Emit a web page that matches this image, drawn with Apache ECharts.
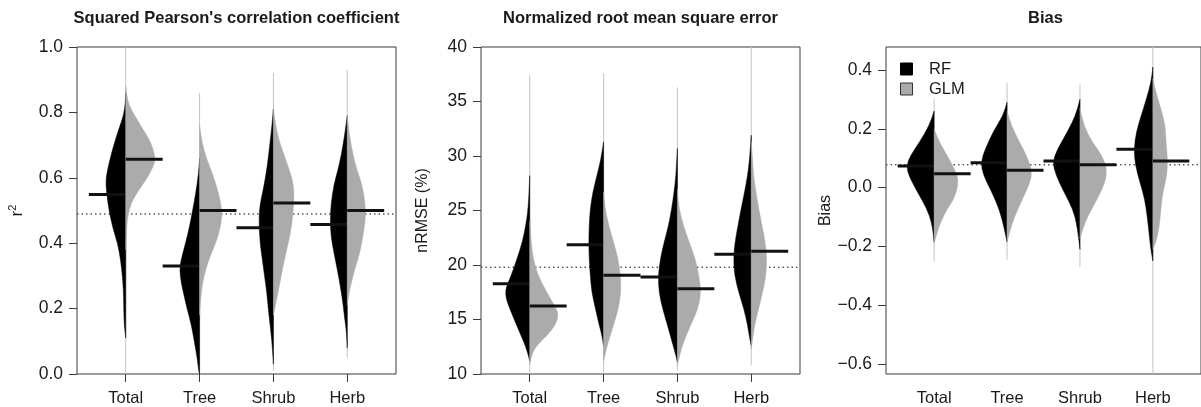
<!DOCTYPE html>
<html><head><meta charset="utf-8">
<script src="https://cdn.jsdelivr.net/npm/echarts@6.0.0/dist/echarts.min.js"></script>
<style>html,body{margin:0;padding:0;background:#fff}#c{width:1201px;height:407px}</style>
</head><body><div id="c"></div>
<script>
// ---------------- DATA ----------------
const categories = ["Total", "Tree", "Shrub", "Herb"];
const seriesNames = ["RF", "GLM"];
const panelTitles = ["Squared Pearson's correlation coefficient", "Normalized root mean square error", "Bias"];
const axisNames = ["{a|r}{b|2}", "nRMSE (%)", "Bias"];

const r2Ticks = [0, 0.2, 0.4, 0.6, 0.8, 1.0];
const nrmseTicks = [10, 15, 20, 25, 30, 35, 40];
const biasTicks = [-0.6, -0.4, -0.2, 0.0, 0.2, 0.4];

// Panel 1: r2  — density profiles [value, half-width] per category
const r2MeanRF = [0.549, 0.330, 0.447, 0.457];
const r2MeanGLM = [0.657, 0.500, 0.523, 0.500];
const r2Overall = 0.489;
const r2Tails = [[0.0, 1.0], [0.0, 0.86], [0.01, 0.92], [0.05, 0.93]];
const r2DensRF = [
  [[0.11,0],[0.13,0.01],[0.15,0.02],[0.2,0.027],[0.25,0.03],[0.30,0.045],[0.35,0.07],[0.40,0.11],[0.45,0.18],[0.505,0.23],[0.54,0.25],[0.58,0.27],[0.61,0.26],[0.66,0.21],[0.71,0.15],[0.76,0.077],[0.79,0.03],[0.83,0.005],[0.86,0]],
  [[0,0],[0.005,0.01],[0.046,0.03],[0.097,0.07],[0.15,0.11],[0.2,0.17],[0.24,0.21],[0.28,0.25],[0.32,0.27],[0.35,0.25],[0.40,0.19],[0.45,0.136],[0.505,0.09],[0.55,0.054],[0.61,0.015],[0.66,0]],
  [[0.03,0],[0.05,0.005],[0.097,0.02],[0.15,0.045],[0.2,0.07],[0.25,0.09],[0.30,0.12],[0.35,0.15],[0.40,0.18],[0.44,0.19],[0.48,0.195],[0.52,0.18],[0.55,0.15],[0.61,0.10],[0.66,0.07],[0.71,0.045],[0.76,0.02],[0.81,0]],
  [[0.08,0],[0.13,0.01],[0.17,0.036],[0.22,0.06],[0.27,0.095],[0.32,0.135],[0.37,0.18],[0.42,0.22],[0.47,0.23],[0.52,0.22],[0.58,0.18],[0.62,0.13],[0.67,0.08],[0.73,0.036],[0.79,0]]
];
const r2DensGLM = [
  [[0.38,0],[0.42,0.008],[0.46,0.015],[0.505,0.045],[0.54,0.11],[0.58,0.23],[0.61,0.32],[0.65,0.40],[0.67,0.39],[0.71,0.34],[0.76,0.2],[0.81,0.07],[0.84,0.02],[0.88,0]],
  [[0.18,0],[0.25,0.02],[0.30,0.06],[0.34,0.11],[0.38,0.18],[0.42,0.25],[0.47,0.30],[0.505,0.30],[0.55,0.26],[0.61,0.18],[0.66,0.09],[0.71,0.03],[0.76,0]],
  [[0.18,0],[0.23,0.045],[0.27,0.08],[0.33,0.13],[0.38,0.18],[0.43,0.23],[0.48,0.26],[0.54,0.28],[0.58,0.27],[0.61,0.235],[0.66,0.16],[0.71,0.08],[0.76,0.03],[0.81,0]],
  [[0.21,0],[0.23,0.01],[0.27,0.045],[0.32,0.10],[0.37,0.17],[0.42,0.21],[0.47,0.245],[0.52,0.245],[0.58,0.2],[0.62,0.136],[0.67,0.077],[0.73,0.03],[0.79,0]]
];

// Panel 2: nRMSE
const nrmseMeanRF = [18.28, 21.86, 18.90, 20.98];
const nrmseMeanGLM = [16.24, 19.05, 17.83, 21.26];
const nrmseOverall = 19.8;
const nrmseTails = [[10.0, 37.4], [10.0, 37.6], [10.3, 36.3], [10.8, 40.0]];
const nrmseDensRF = [
  [[11.2,0],[12.0,0.03],[12.9,0.077],[14.5,0.18],[16.0,0.27],[16.9,0.32],[17.8,0.33],[19.05,0.25],[20.6,0.17],[22.1,0.10],[23.6,0.054],[25.2,0.02],[28.2,0]],
  [[12.6,0],[13.5,0.02],[14.5,0.06],[16.0,0.11],[17.5,0.16],[19.05,0.18],[20.6,0.195],[22.1,0.2],[23.6,0.195],[25.2,0.18],[26.7,0.145],[28.2,0.09],[29.7,0.036],[31.3,0]],
  [[11.1,0],[11.7,0.02],[12.9,0.07],[14.5,0.136],[16.0,0.2],[17.5,0.25],[19.05,0.26],[20.6,0.23],[22.1,0.18],[23.6,0.12],[25.2,0.077],[26.7,0.045],[28.2,0.02],[30.7,0]],
  [[12.6,0],[13.2,0.02],[14.5,0.05],[16.0,0.10],[17.5,0.17],[19.05,0.226],[20.6,0.24],[22.1,0.22],[23.6,0.18],[25.2,0.136],[26.7,0.09],[28.2,0.05],[29.7,0.023],[31.9,0]]
];
const nrmseDensGLM = [
  [[10.9,0],[11.7,0.02],[12.6,0.09],[13.5,0.23],[14.5,0.35],[15.4,0.39],[16.0,0.36],[17.5,0.23],[19.05,0.11],[20.6,0.045],[22.1,0.02],[24.0,0]],
  [[11.2,0],[11.7,0.015],[12.9,0.06],[14.5,0.136],[16.0,0.2],[17.5,0.235],[19.05,0.23],[20.6,0.195],[22.1,0.136],[23.6,0.07],[25.2,0.02],[26.7,0]],
  [[10.8,0],[11.7,0.027],[12.9,0.08],[14.5,0.18],[16.0,0.28],[17.5,0.32],[19.05,0.29],[20.6,0.24],[22.1,0.16],[23.6,0.08],[25.2,0.02],[27.0,0]],
  [[12.3,0],[13.2,0.018],[14.5,0.045],[16.0,0.1],[17.5,0.154],[19.05,0.2],[20.6,0.21],[22.1,0.19],[23.6,0.145],[25.2,0.1],[26.7,0.063],[28.2,0.03],[29.7,0.018],[31.3,0]]
];

// Panel 3: Bias
const biasMeanRF = [0.073, 0.084, 0.090, 0.130];
const biasMeanGLM = [0.047, 0.059, 0.078, 0.090];
const biasOverall = 0.078;
const biasTails = [[-0.25, 0.30], [-0.245, 0.355], [-0.27, 0.35], [-0.634, 0.478]];
const biasDensRF = [
  [[-0.185,0],[-0.16,0.01],[-0.117,0.036],[-0.072,0.1],[-0.015,0.23],[0.042,0.35],[0.076,0.38],[0.11,0.32],[0.155,0.2],[0.21,0.068],[0.26,0]],
  [[-0.185,0],[-0.13,0.045],[-0.072,0.11],[-0.015,0.21],[0.042,0.325],[0.087,0.36],[0.13,0.30],[0.19,0.19],[0.245,0.054],[0.29,0]],
  [[-0.21,0],[-0.13,0.036],[-0.072,0.1],[-0.015,0.22],[0.042,0.33],[0.087,0.375],[0.13,0.31],[0.19,0.17],[0.245,0.06],[0.30,0]],
  [[-0.25,0],[-0.21,0.03],[-0.15,0.054],[-0.1,0.077],[-0.04,0.11],[0.02,0.18],[0.076,0.24],[0.13,0.26],[0.19,0.226],[0.245,0.16],[0.3,0.09],[0.36,0.023],[0.41,0]]
];
const biasDensGLM = [
  [[-0.19,0],[-0.15,0.045],[-0.117,0.09],[-0.072,0.18],[-0.04,0.27],[0.008,0.33],[0.042,0.32],[0.1,0.2],[0.155,0.068],[0.2,0]],
  [[-0.185,0],[-0.15,0.036],[-0.1,0.1],[-0.04,0.21],[0.02,0.32],[0.053,0.34],[0.1,0.285],[0.155,0.17],[0.21,0.06],[0.26,0]],
  [[-0.175,0],[-0.14,0.04],[-0.1,0.1],[-0.04,0.235],[0.02,0.35],[0.065,0.37],[0.11,0.30],[0.155,0.167],[0.21,0.054],[0.27,0]],
  [[-0.21,0],[-0.185,0.045],[-0.13,0.09],[-0.072,0.11],[-0.015,0.136],[0.042,0.195],[0.1,0.2],[0.155,0.18],[0.21,0.17],[0.268,0.11],[0.32,0.045],[0.37,0]]
];

// ---------------- CHART ----------------
const FONT = "'Liberation Sans', Arial, Helvetica, sans-serif";
const RF_COLOR = '#000000';
const GLM_COLOR = '#ababab';
const TEXT = '#1a1a1a';
const BOX = '#3a3a3a';

const panels = [
  { left: 77, min: 0, max: 1, ticks: r2Ticks, fmt: v => v.toFixed(1),
    rf: r2DensRF, glm: r2DensGLM, mRF: r2MeanRF, mGLM: r2MeanGLM, overall: r2Overall, tails: r2Tails },
  { left: 481, min: 10, max: 40, ticks: nrmseTicks, fmt: v => String(v),
    rf: nrmseDensRF, glm: nrmseDensGLM, mRF: nrmseMeanRF, mGLM: nrmseMeanGLM, overall: nrmseOverall, tails: nrmseTails },
  { left: 886, min: -0.634, max: 0.478, ticks: biasTicks, fmt: v => (v < 0 ? '\u2212' : '') + Math.abs(v).toFixed(1),
    rf: biasDensRF, glm: biasDensGLM, mRF: biasMeanRF, mGLM: biasMeanGLM, overall: biasOverall, tails: biasTails }
];
const PW = 319, TOP = 47, PH = 327;
const XMIN = 0.34, XMAX = 4.66;

function halfRenderer(profiles, means, side, color, tails) {
  return function (params, api) {
    const i = params.dataIndex;
    const c = i + 1;
    const children = [];
    if (tails) {
      const a = api.coord([c, tails[i][0]]), b = api.coord([c, tails[i][1]]);
      children.push({ type: 'line', shape: { x1: a[0], y1: a[1], x2: b[0], y2: b[1] },
        style: { stroke: '#c4c4c4', lineWidth: 1 } });
    }
    const pts = profiles[i].map(p => api.coord([c + side * p[1], p[0]]));
    let d = 'M' + pts[0][0] + ' ' + pts[0][1];
    for (let k = 1; k < pts.length - 1; k++) {
      const mx = (pts[k][0] + pts[k + 1][0]) / 2, my = (pts[k][1] + pts[k + 1][1]) / 2;
      d += ' Q' + pts[k][0] + ' ' + pts[k][1] + ' ' + mx + ' ' + my;
    }
    const last = pts[pts.length - 1];
    d += ' L' + last[0] + ' ' + last[1] + ' Z';
    children.push({ type: 'path', shape: { pathData: d }, style: { fill: color, stroke: color, lineWidth: 0.5 } });
    const m1 = api.coord([c + side * 0.5, means[i]]), m2 = api.coord([c, means[i]]);
    children.push({ type: 'line', shape: { x1: m1[0], y1: m1[1], x2: m2[0], y2: m2[1] },
      style: { stroke: '#111', lineWidth: 3 } });
    return { type: 'group', children };
  };
}

const grid = [], xAxis = [], yAxis = [], series = [], graphic = [];
panels.forEach((p, k) => {
  grid.push({ left: p.left, top: TOP, width: PW, height: PH, show: true, borderColor: BOX, borderWidth: 1, backgroundColor: 'transparent', containLabel: false });
  xAxis.push({ type: 'value', gridIndex: k, min: XMIN, max: XMAX,
    axisLine: { show: false }, splitLine: { show: false },
    axisTick: { show: true, customValues: [1, 2, 3, 4], length: 8, lineStyle: { color: BOX, width: 1 } },
    axisLabel: { show: true, customValues: [1, 2, 3, 4], formatter: v => categories[Math.round(v) - 1],
      fontSize: 16.5, color: TEXT, fontFamily: FONT, margin: 16 } });
  yAxis.push({ type: 'value', gridIndex: k, min: p.min, max: p.max,
    axisLine: { show: false }, splitLine: { show: false },
    axisTick: { show: true, customValues: p.ticks, length: 8, lineStyle: { color: BOX, width: 1 } },
    axisLabel: { show: true, customValues: p.ticks, formatter: p.fmt, fontSize: 17.5, color: TEXT, fontFamily: FONT, margin: 14 },
    name: axisNames[k], nameLocation: 'middle', nameGap: 50,
    nameTextStyle: { fontSize: 16, color: TEXT, fontFamily: FONT,
      rich: { a: { fontSize: 17, color: TEXT, fontFamily: FONT }, b: { fontSize: 11, color: TEXT, fontFamily: FONT, padding: [0, 0, 9, 0] } } } });
  series.push({ type: 'line', xAxisIndex: k, yAxisIndex: k, data: [[XMIN, p.overall], [XMAX, p.overall]],
    symbol: 'none', silent: true, z: 1, lineStyle: { color: '#555', width: 1.5, type: [1.5, 3] } });
  series.push({ type: 'custom', name: seriesNames[0], xAxisIndex: k, yAxisIndex: k, z: 2, silent: true,
    renderItem: halfRenderer(p.rf, p.mRF, -1, RF_COLOR, p.tails), data: categories.map((c, i) => [i + 1, p.mRF[i]]), clip: true });
  series.push({ type: 'custom', name: seriesNames[1], xAxisIndex: k, yAxisIndex: k, z: 3, silent: true,
    renderItem: halfRenderer(p.glm, p.mGLM, 1, GLM_COLOR, null), data: categories.map((c, i) => [i + 1, p.mGLM[i]]), clip: true });
  graphic.push({ type: 'text', x: p.left + PW / 2, y: 18,
    style: { text: panelTitles[k], align: 'center', verticalAlign: 'middle', fontSize: 16.5, fontWeight: 'bold', fontFamily: FONT, fill: TEXT } });
});

// legend (panel 3)
graphic.push({ type: 'rect', shape: { x: 900.5, y: 63, width: 12, height: 12 }, style: { fill: RF_COLOR, stroke: '#000', lineWidth: 1 } });
graphic.push({ type: 'rect', shape: { x: 900.5, y: 83, width: 12, height: 12 }, style: { fill: GLM_COLOR, stroke: '#333', lineWidth: 1 } });
graphic.push({ type: 'text', x: 929, y: 69, style: { text: seriesNames[0], align: 'left', verticalAlign: 'middle', fontSize: 16.5, fontFamily: FONT, fill: TEXT } });
graphic.push({ type: 'text', x: 929, y: 89, style: { text: seriesNames[1], align: 'left', verticalAlign: 'middle', fontSize: 16.5, fontFamily: FONT, fill: TEXT } });

const chart = echarts.init(document.getElementById('c'), null, { renderer: 'canvas' });
chart.setOption({ animation: false, backgroundColor: '#fff', grid, xAxis, yAxis, series, graphic });
</script>
</body></html>
